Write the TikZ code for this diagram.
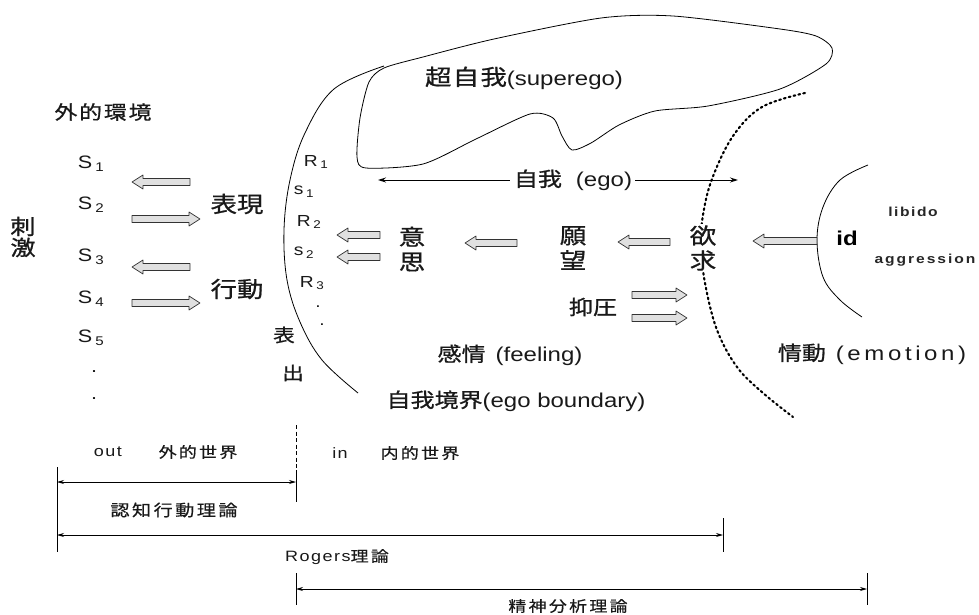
\documentclass[tikz,border=0pt]{standalone}
\usepackage{fontspec}
\setmainfont{Liberation Sans}[FakeStretch=1.2]
\newfontfamily\jp{Noto Sans CJK JP}[FakeStretch=1.2,FakeBold=0.9]
\newfontfamily\jpl{Noto Sans CJK JP}[FakeStretch=1.2,FakeBold=0.5]
\usetikzlibrary{arrows.meta}
\newcommand\harr[3]{%
  \pgfmathsetmacro\hx{#2-11*sign(#2-#1)}%
  \draw[hollow] (#1,#3-3.5) -- (\hx,#3-3.5) -- (\hx,#3-7) -- (#2,#3) -- (\hx,#3+7) -- (\hx,#3+3.5) -- (#1,#3+3.5) -- cycle;}
\newcommand\sub[1]{\,\textsubscript{#1}}
\begin{document}
\begin{tikzpicture}[x=1pt,y=-1pt,line width=0.8pt,
  hollow/.style={draw=black!80,line width=0.7pt,fill=black!12,line join=round},
  big/.style={inner sep=0pt,text=black!90,font=\fontsize{22}{25}\selectfont\jp},
  mid/.style={inner sep=0pt,text=black!90,font=\fontsize{20}{22}\selectfont},
  lett/.style={inner sep=0pt,text=black!90,font=\fontsize{18}{20}\selectfont},
  rlett/.style={inner sep=0pt,text=black!90,font=\fontsize{16}{18}\selectfont},
  small/.style={inner sep=0pt,text=black!90,font=\fontsize{15}{17}\selectfont\addfontfeature{LetterSpace=10}},
  smalljp/.style={inner sep=0pt,text=black!90,font=\fontsize{15}{17}\selectfont\jpl\addfontfeature{LetterSpace=15}},
  dimline/.style={line width=0.8pt,{Stealth[length=7pt,width=4pt]}-{Stealth[length=7pt,width=4pt]}},
  tick/.style={line width=0.7pt}]
\useasboundingbox (0,0) rectangle (979,615);

% superego outline
\draw[line width=0.8pt] plot[smooth cycle,tension=0.45] coordinates {
 (384,68) (423,57) (494,39) (601,18) (673,16) (780,29) (816,36) (832,48) (826,64)
 (780,89) (708,106) (655,111) (619,125) (591,143) (572,150) (562,136) (553,118)
 (530,114) (476,139) (423,164) (366,168) (357,157) (360,118) (369,82)};
% ego boundary (outer curve)
\draw[line width=0.8pt] plot[smooth,tension=0.6] coordinates {
 (384,66) (334,89) (305,133) (290,180) (284,230) (287,280) (300,322) (322,360) (358,393)};
% dotted id/ego boundary
\draw[line width=2.1pt,dash pattern=on 1.8pt off 3.2pt,line cap=round] plot[smooth,tension=0.6] coordinates {
 (805,93) (762,107) (733,136) (712,179) (703,215) (701,245) (705,283) (717,330) (737,367) (763,393) (793,417)};
% id curve
\draw[line width=0.8pt] plot[smooth,tension=0.6] coordinates {
 (868,165) (840,180) (823,207) (817,240) (823,277) (840,300) (862,317)};

% texts left
\node[inner sep=0pt,text=black!90,font=\fontsize{19}{21}\selectfont\jp\addfontfeature{LetterSpace=10}] (env) at (103,112) {外的環境};
\node[big,align=center,font=\fontsize{21}{21}\selectfont\jp] (shigeki) at (23,237) {刺\\激};
\node[lett] (s1) at (91,164) {S\sub{1}};
\node[lett] (s2) at (91,205) {S\sub{2}};
\node[lett] (s3) at (91,257) {S\sub{3}};
\node[lett] (s4) at (91,299) {S\sub{4}};
\node[lett] (s5) at (91,338) {S\sub{5}};
\node[lett] (d1) at (94,372) {.};
\node[lett] (d2) at (94,399) {.};
\node[big] (hyogen) at (237,204) {表現};
\node[big] (kodo) at (237,289) {行動};
\harr{190}{132}{182}
\harr{132}{200}{219}
\harr{190}{132}{267}
\harr{132}{200}{303}

% R/s column
\node[rlett] (r1) at (316,162) {R\sub{1}};
\node[rlett] (rs1) at (304,192) {s\sub{1}};
\node[rlett] (r2) at (309,222) {R\sub{2}};
\node[rlett] (rs2) at (304,253) {s\sub{2}};
\node[rlett] (r3) at (312,283) {R\sub{3}};
\node[rlett] (rd1) at (318,307) {.};
\node[rlett] (rd2) at (322,325) {.};
\node[inner sep=0pt,text=black!90,font=\fontsize{18}{19}\selectfont\jp] (hyo) at (284,335) {表};
\node[inner sep=0pt,text=black!90,font=\fontsize{18}{19}\selectfont\jp] (shutsu) at (293,373) {出};

% superego / ego
\node[mid] (superego) at (524,78) {{\fontsize{22}{24}\selectfont\jp\addfontfeature{LetterSpace=6}超自我}(superego)};
\node[mid] (ego) at (573,180) {{\jp 自我}\hspace{14pt}(ego)};
\coordinate (egoL) at (378,180);
\coordinate (egoR) at (738,180);
\draw[line width=1pt,-{Stealth[length=8pt,width=5pt]}] (ego.west) ++(-4,0) -- (egoL);
\draw[line width=1pt,-{Stealth[length=8pt,width=5pt]}] (ego.east) ++(3,0) -- (egoR);

% inner column
\node[big,align=center] (ishi) at (412,249) {意\\思};
\node[big,align=center] (ganbo) at (573,248) {願\\望};
\node[big,align=center,fill=white,inner sep=1pt] (yokkyu) at (703,248) {欲\\求};
\node[big,font=\fontsize{20}{22}\selectfont\jp] (yokuatsu) at (593,307) {抑圧};
\harr{380}{337}{235}
\harr{380}{337}{257}
\harr{517}{465}{243}
\harr{670}{618}{242}
\harr{817}{753}{241}
\harr{632}{687}{295}
\harr{632}{687}{318}

% id
\node[inner sep=0pt,font=\fontsize{20}{22}\selectfont\bfseries] (id) at (847,238) {id};
\node[inner sep=0pt,font=\fontsize{13}{15}\selectfont\bfseries\addfontfeature{LetterSpace=12},text=black!85] (libido) at (913,212) {libido};
\node[inner sep=0pt,font=\fontsize{13}{15}\selectfont\bfseries\addfontfeature{LetterSpace=15},text=black!85] (aggr) at (925,260) {aggression};

\node[mid] (feeling) at (510,355) {{\jp 感情}\hspace{10pt}(feeling)};
\node[mid] (egob) at (516,401) {{\jp 自我境界}(ego boundary)};
\node[mid] (emotion) at (872,354) {{\jp 情動}\hspace{10pt}{\addfontfeature{LetterSpace=18}(emotion)}};

% bottom
\node[small] (out) at (108,452) {out};
\node[smalljp] (gaiteki) at (198,452) {外的世界};
\node[small] (in) at (340,453) {in};
\node[smalljp] (naiteki) at (420,453) {内的世界};
\coordinate (vtop) at (296,425);
\coordinate (vmid) at (296,470);
\coordinate (vbot) at (296,502);
\draw[line width=1pt,dash pattern=on 4pt off 2.5pt] (vtop) -- (vmid);
\draw[tick] (vmid) -- (vbot);
\coordinate (lt) at (57,467);
\coordinate (lb) at (57,552);
\draw[tick] (lt) -- (lb);
\coordinate (a1l) at (57,482);
\coordinate (a1r) at (296,482);
\draw[dimline] (a1l) -- (a1r);
\node[smalljp,font=\fontsize{16}{17}\selectfont\jpl\addfontfeature{LetterSpace=15}] (ninchi) at (174,510) {認知行動理論};
\coordinate (a2l) at (57,535);
\coordinate (a2r) at (723,535);
\draw[dimline] (a2l) -- (a2r);
\coordinate (rt) at (723,518);
\coordinate (rb) at (723,552);
\draw[tick] (rt) -- (rb);
\node[small] (rogers) at (337,557) {Rogers{\jpl\addfontfeature{LetterSpace=15} 理論}};
\coordinate (a3l) at (296,589);
\coordinate (a3r) at (867,589);
\draw[dimline] (a3l) -- (a3r);
\coordinate (t3a) at (296,573);
\coordinate (t3b) at (296,605);
\coordinate (t3c) at (867,573);
\coordinate (t3d) at (867,605);
\draw[tick] (t3a) -- (t3b);
\draw[tick] (t3c) -- (t3d);
\node[smalljp] (seishin) at (568,606) {精神分析理論};
\end{tikzpicture}
\end{document}
